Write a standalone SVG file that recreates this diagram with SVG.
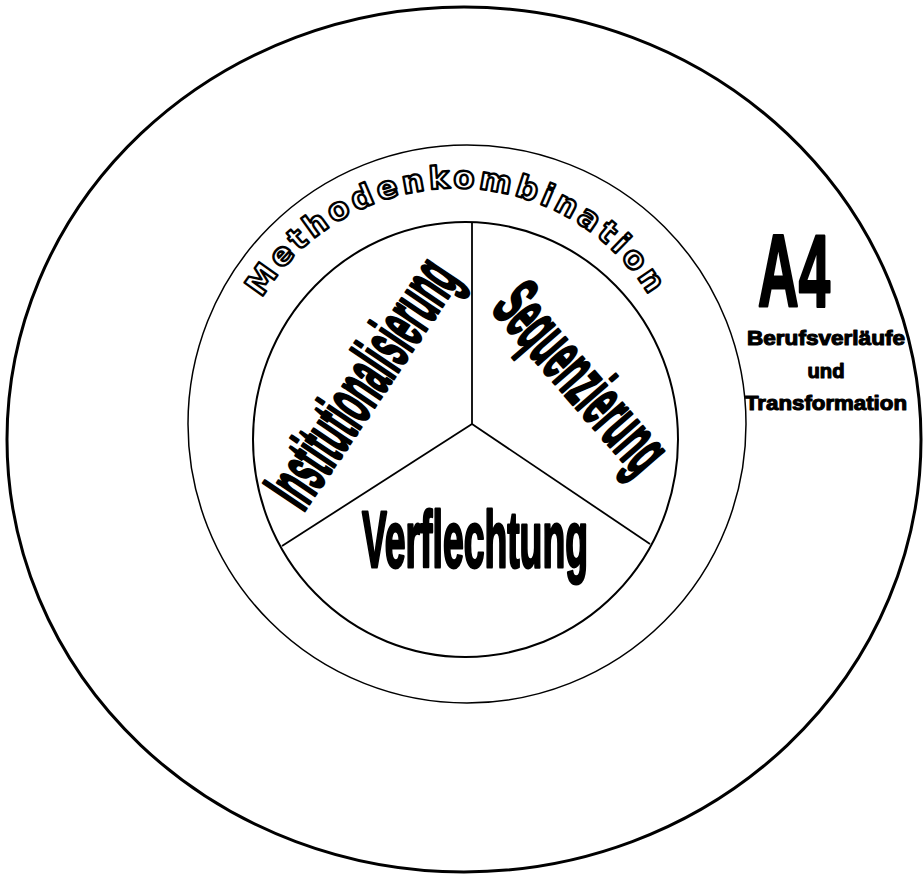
<svg xmlns="http://www.w3.org/2000/svg" width="924" height="875" viewBox="0 0 924 875">
<style>
.ring{fill:none;stroke:#000}
.big{font-family:"Liberation Sans",Arial,sans-serif;font-weight:bold;fill:#000;stroke:#000;stroke-width:3;stroke-linejoin:round}
.arc{font-family:"DejaVu Sans",sans-serif;font-weight:bold;font-size:31px;fill:#fff;stroke:#000;stroke-width:2.4;stroke-linejoin:round;letter-spacing:3.9px}
.small{font-family:"Liberation Sans",Arial,sans-serif;font-weight:bold;font-size:20px;fill:#000;stroke:#000;stroke-width:1.1;stroke-linejoin:round;text-anchor:middle}
</style>
<defs>
<path id="arcPath" d="M 229.5 415 A 227 227 0 0 1 683.5 415"/>
</defs>
<rect width="924" height="875" fill="#fff"/>
<g id="outer">
<ellipse class="ring" cx="464" cy="439.5" rx="457" ry="432.5" stroke-width="3"/>
<text class="big" x="794" y="306" text-anchor="middle" font-size="102" textLength="72" lengthAdjust="spacingAndGlyphs">A4</text>
<text class="small" x="826" y="345" textLength="158" lengthAdjust="spacingAndGlyphs">Berufsverläufe</text>
<text class="small" x="826" y="378" textLength="37" lengthAdjust="spacingAndGlyphs">und</text>
<text class="small" x="826" y="410" textLength="162" lengthAdjust="spacingAndGlyphs">Transformation</text>
</g>
<g id="methodenkombination">
<circle class="ring" cx="467" cy="424" r="279" stroke-width="1.5"/>
<text class="arc" text-anchor="middle"><textPath href="#arcPath" startOffset="50%">Methodenkombination</textPath></text>
</g>
<g id="core">
<ellipse class="ring" cx="465.5" cy="439.5" rx="212.5" ry="217.5" stroke-width="2"/>
</g>
<g id="connectors" stroke="#000" stroke-width="1.8" fill="none">
<line x1="472" y1="222" x2="472" y2="424"/>
<line x1="472" y1="424" x2="282" y2="546"/>
<line x1="472" y1="424" x2="650" y2="544"/>
</g>
<g id="institutionalisierung">
<text class="big" transform="translate(303,513) rotate(-56)" x="0" y="0" font-size="72" textLength="282" lengthAdjust="spacingAndGlyphs">Institutionalisierung</text>
</g>
<g id="sequenzierung">
<text class="big" transform="translate(490,309) rotate(49)" x="0" y="0" font-size="72" textLength="224" lengthAdjust="spacingAndGlyphs">Sequenzierung</text>
</g>
<g id="verflechtung">
<text class="big" x="475" y="567" text-anchor="middle" font-size="80" textLength="226" lengthAdjust="spacingAndGlyphs">Verflechtung</text>
</g>
</svg>
